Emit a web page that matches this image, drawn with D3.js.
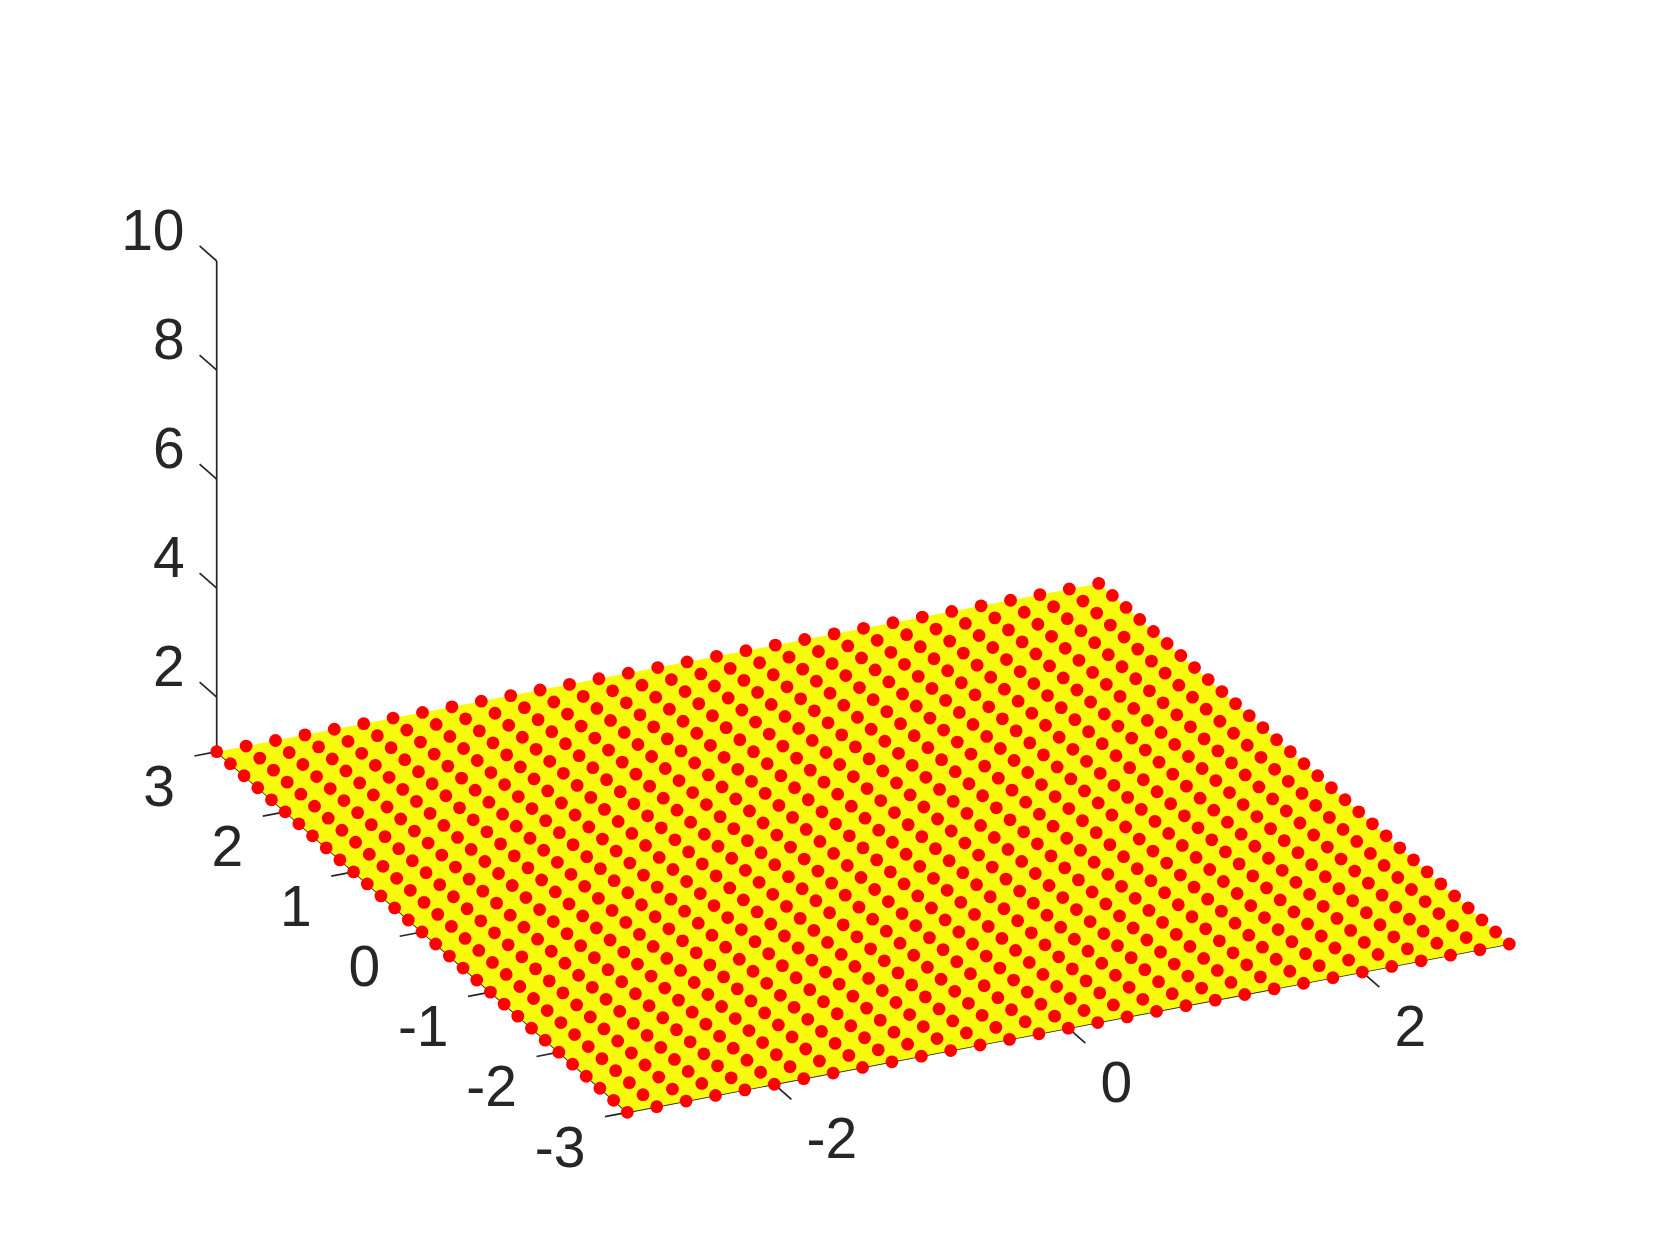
<!DOCTYPE html>
<html>
<head>
<meta charset="utf-8">
<script src="https://cdn.jsdelivr.net/npm/d3@7"></script>
<style>
  html, body { margin: 0; padding: 0; background: #fff; }
  svg { display: block; }
  text { font-family: "Liberation Sans", Arial, sans-serif; font-size: 57px; fill: #262626; }
</style>
</head>
<body>
<div id="chart-area"></div>
<script>
// grid of the flat surface, x and y run -3 to 3
const gridX = [-3, -2.8, -2.6, -2.4, -2.2, -2, -1.8, -1.6, -1.4, -1.2, -1, -0.8, -0.6, -0.4, -0.2, 0,
    0.2, 0.4, 0.6, 0.8, 1, 1.2, 1.4, 1.6, 1.8, 2, 2.2, 2.4, 2.6, 2.8, 3];
const gridY = [-3, -2.8, -2.6, -2.4, -2.2, -2, -1.8, -1.6, -1.4, -1.2, -1, -0.8, -0.6, -0.4, -0.2, 0,
    0.2, 0.4, 0.6, 0.8, 1, 1.2, 1.4, 1.6, 1.8, 2, 2.2, 2.4, 2.6, 2.8, 3];
const surfaceZ = [1];

const xTicks = [-2, 0, 2];
const yTicks = [-3, -2, -1, 0, 1, 2, 3];
const zTicks = [2, 4, 6, 8, 10];

const width = 1667, height = 1250;

const svg = d3.select("#chart-area")
    .append("svg")
        .attr("width", width)
        .attr("height", height);

// oblique view: each data axis moves the point in both screen directions
const xToPx = d3.scaleLinear().domain([-3, 3]).range([0, 882]);
const xToPy = d3.scaleLinear().domain([-3, 3]).range([0, -168.3]);
const yToPx = d3.scaleLinear().domain([-3, 3]).range([0, -410.6]);
const yToPy = d3.scaleLinear().domain([-3, 3]).range([0, -360.6]);
const zToPy = d3.scaleLinear().domain([1, 10]).range([0, -490.7]);

const originX = 627.3, originY = 1112.3;

function project(x, y, z) {
    return [
        originX + xToPx(x) + yToPx(y),
        originY + xToPy(x) + yToPy(y) + zToPy(z)
    ];
}

const zFloor = surfaceZ[0];
const line = d3.line();

function drawLine(from, to) {
    svg.append("path")
        .attr("d", line([from, to]))
        .attr("fill", "none")
        .attr("stroke", "#262626")
        .attr("stroke-width", 1.7);
}

// AXES
drawLine(project(-3, -3, zFloor), project(3, -3, zFloor));
drawLine(project(-3, -3, zFloor), project(-3, 3, zFloor));
drawLine(project(-3, 3, zFloor), project(-3, 3, 10));

// X ticks point toward the viewer, labels hang below right
xTicks.forEach(function(d){
    const end = project(d, -3.25, zFloor);
    drawLine(project(d, -3, zFloor), end);
    svg.append("text")
        .attr("x", end[0] + 15)
        .attr("y", end[1] + 59)
        .attr("text-anchor", "start")
        .text(d);
});

// Y ticks
yTicks.forEach(function(d){
    const end = project(-3.152, d, zFloor);
    drawLine(project(-3, d, zFloor), end);
    svg.append("text")
        .attr("x", end[0] - 19.5)
        .attr("y", end[1] + 50)
        .attr("text-anchor", "end")
        .text(d);
});

// Z ticks
zTicks.forEach(function(d){
    const end = project(-3, 3.25, d);
    drawLine(project(-3, 3, d), end);
    svg.append("text")
        .attr("x", end[0] - 15)
        .attr("y", end[1] + 4)
        .attr("text-anchor", "end")
        .text(d);
});

// SURFACE
const xFirst = gridX[0], xLast = gridX[gridX.length - 1];
const yFirst = gridY[0], yLast = gridY[gridY.length - 1];

svg.append("path")
    .attr("d", line([
        project(xFirst, yFirst, zFloor),
        project(xLast, yFirst, zFloor),
        project(xLast, yLast, zFloor),
        project(xFirst, yLast, zFloor)
    ]) + "Z")
    .attr("fill", "#f9fb0e");

// POINTS
const points = d3.cross(gridX, gridY, function(x, y){ return {x: x, y: y, z: zFloor}; });

svg.selectAll("circle").data(points)
    .enter()
    .append("circle")
        .attr("cx", function(d){ return project(d.x, d.y, d.z)[0]; })
        .attr("cy", function(d){ return project(d.x, d.y, d.z)[1]; })
        .attr("r", 6.4)
        .attr("fill", "#ff0000");
</script>
</body>
</html>
